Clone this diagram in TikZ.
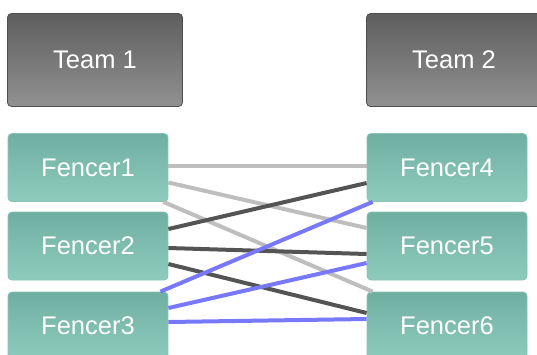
\documentclass[tikz,border=0pt]{standalone}
\usepackage{fontspec}
\setmainfont{Liberation Sans}
\definecolor{teamtop}{HTML}{5E5E5E}
\definecolor{teambot}{HTML}{919191}
\definecolor{teamedge}{HTML}{4E4E4E}
\definecolor{fentop}{HTML}{6FAFA1}
\definecolor{fenbot}{HTML}{8ECBBD}
\definecolor{fenedge}{HTML}{86C4B6}
\definecolor{lgray}{HTML}{BEBEBE}
\definecolor{dgray}{HTML}{545454}
\definecolor{lblue}{HTML}{7878FA}
\tikzset{
  teambox/.style={draw=teamedge, line width=0.8pt, rounded corners=4pt, top color=teamtop, bottom color=teambot,
    minimum width=175pt, minimum height=93pt, inner sep=0pt, text=white, font=\fontsize{25.5pt}{28pt}\selectfont},
  fencerbox/.style={draw=fenedge, line width=0.8pt, rounded corners=4pt, top color=fentop, bottom color=fenbot,
    minimum width=160pt, minimum height=68pt, inner sep=0pt, text=white, font=\fontsize{25.5pt}{28pt}\selectfont},
  link/.style={line width=4pt},
}
\begin{document}
\begin{tikzpicture}[x=1pt,y=1pt]
\useasboundingbox (0,0) rectangle (537,-354);
\clip (0,0) rectangle (537,-354);
\node[teambox] (t1) at (95,-60) {Team 1};
\node[teambox] (t2) at (454,-60) {Team 2};
\node[fencerbox] (f1) at (88,-167.5) {Fencer1};
\node[fencerbox] (f2) at (88,-246) {Fencer2};
\node[fencerbox] (f3) at (88,-326) {Fencer3};
\node[fencerbox] (f4) at (447,-167.5) {Fencer4};
\node[fencerbox] (f5) at (447,-246) {Fencer5};
\node[fencerbox] (f6) at (447,-326) {Fencer6};
% light gray links
\draw[link, lgray] ([yshift=1.5pt]f1.east) -- ([yshift=1.5pt]f4.west);
\draw[link, lgray] ([yshift=-15pt]f1.east) -- ([yshift=18pt]f5.west);
\draw[link, lgray] ([xshift=-5pt]f1.south east) -- ([xshift=6pt]f6.north west);
% dark gray links
\draw[link, dgray] ([yshift=17pt]f2.west -| f2.east) -- ([yshift=-15.5pt]f4.west);
\draw[link, dgray] ([yshift=-2pt]f2.east) -- ([yshift=-8pt]f5.west);
\draw[link, dgray] ([yshift=-18pt]f2.east) -- ([yshift=13pt]f6.west);
% blue links
\draw[link, lblue] ([xshift=-8pt]f3.north east) -- ([xshift=6pt]f4.south west);
\draw[link, lblue] ([yshift=18pt]f3.east) -- ([yshift=-17pt]f5.west);
\draw[link, lblue] ([yshift=4pt]f3.east) -- ([yshift=7pt]f6.west);
\end{tikzpicture}
\end{document}
